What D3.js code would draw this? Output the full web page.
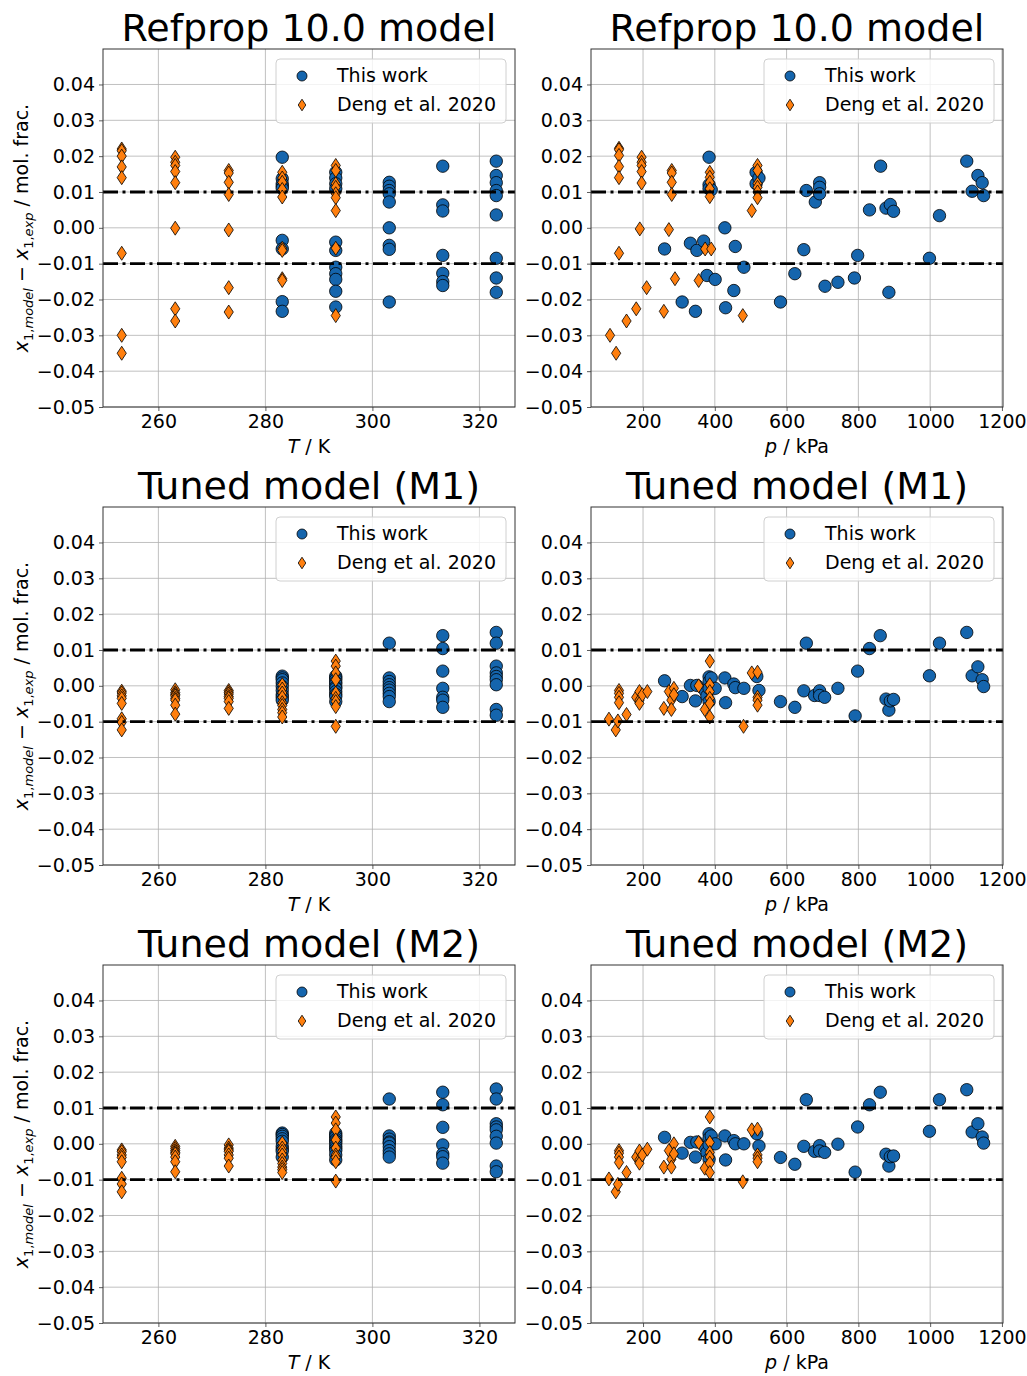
<!DOCTYPE html>
<html>
<head>
<meta charset="utf-8">
<script src="https://cdn.jsdelivr.net/npm/d3@7"></script>
<style>
  body { margin: 0; background: #fff; }
  text { font-family: "DejaVu Sans", sans-serif; fill: #000; }
</style>
</head>
<body>
<div id="chart"></div>
<script>
// ---- data (deviations x1,model - x1,exp, mol. frac.) ----
const titles = ["Refprop 10.0 model", "Tuned model (M1)", "Tuned model (M2)"];
const tTicks = [260, 280, 300, 320];
const pTicks = [200, 400, 600, 800, 1000, 1200];
const devTicks = [-0.05, -0.04, -0.03, -0.02, -0.01, 0.00, 0.01, 0.02, 0.03, 0.04];
const limitLines = [-0.01, 0.01];

// grouped by temperature / K
const refWorkT = [
  [283.15, [0.0197, 0.0137, 0.0123, 0.0116, 0.0110, -0.0035, -0.0059, -0.0206, -0.0233]],
  [293.15, [0.0155, 0.0139, 0.0123, 0.0109, -0.0040, -0.0063, -0.0110, -0.0128, -0.0144, -0.0177, -0.0221]],
  [303.15, [0.0127, 0.0116, 0.0104, 0.0095, 0.0072, 0.0000, -0.0049, -0.0060, -0.0207]],
  [313.15, [0.0172, 0.0064, 0.0047, -0.0077, -0.0127, -0.0150, -0.0161]],
  [323.15, [0.0186, 0.0146, 0.0126, 0.0104, 0.0090, 0.0036, -0.0085, -0.0140, -0.0180]]
];
const refDengT = [
  [253.15, [0.0220, 0.0215, 0.0200, 0.0170, 0.0140, -0.0071, -0.0300, -0.0350]],
  [263.15, [0.0197, 0.0183, 0.0174, 0.0157, 0.0126, -0.0001, -0.0226, -0.0260]],
  [273.15, [0.0160, 0.0153, 0.0127, 0.0093, -0.0006, -0.0167, -0.0235]],
  [283.15, [0.0155, 0.0139, 0.0127, 0.0107, 0.0086, -0.0057, -0.0063, -0.0142, -0.0147]],
  [293.15, [0.0174, 0.0160, 0.0123, 0.0113, 0.0095, 0.0084, 0.0048, -0.0057, -0.0245]]
];
const m1WorkT = [
  [283.15, [0.0027, 0.0022, 0.0017, 0.0008, -0.0002, -0.0013, -0.0025, -0.0032, -0.0040]],
  [293.15, [0.0027, 0.0022, 0.0017, 0.0010, 0.0005, -0.0003, -0.0007, -0.0016, -0.0024, -0.0030, -0.0044]],
  [303.15, [0.0119, 0.0022, 0.0012, 0.0003, -0.0005, -0.0012, -0.0021, -0.0030, -0.0044]],
  [313.15, [0.0140, 0.0104, 0.0041, -0.0007, -0.0032, -0.0040, -0.0060]],
  [323.15, [0.0149, 0.0119, 0.0055, 0.0036, 0.0026, 0.0017, 0.0003, -0.0066, -0.0082]]
];
const m1DengT = [
  [253.15, [-0.0015, -0.0020, -0.0028, -0.0035, -0.0049, -0.0092, -0.0102, -0.0123]],
  [263.15, [-0.0011, -0.0019, -0.0024, -0.0028, -0.0035, -0.0040, -0.0054, -0.0079]],
  [273.15, [-0.0013, -0.0018, -0.0023, -0.0030, -0.0035, -0.0044, -0.0063]],
  [283.15, [0.0003, -0.0009, -0.0020, -0.0032, -0.0047, -0.0055, -0.0066, -0.0075, -0.0087]],
  [293.15, [0.0069, 0.0055, 0.0036, 0.0017, -0.0020, -0.0035, -0.0044, -0.0058, -0.0113]]
];
const m2WorkT = [
  [283.15, [0.0030, 0.0026, 0.0021, 0.0014, 0.0007, -0.0007, -0.0015, -0.0021, -0.0037]],
  [293.15, [0.0030, 0.0024, 0.0019, 0.0012, 0.0007, 0.0001, -0.0007, -0.0013, -0.0019, -0.0031, -0.0045]],
  [303.15, [0.0125, 0.0022, 0.0013, 0.0005, 0.0002, -0.0008, -0.0019, -0.0028, -0.0037]],
  [313.15, [0.0144, 0.0109, 0.0046, -0.0003, -0.0028, -0.0036, -0.0054]],
  [323.15, [0.0153, 0.0125, 0.0056, 0.0047, 0.0039, 0.0021, 0.0002, -0.0062, -0.0078]]
];
const m2DengT = [
  [253.15, [-0.0017, -0.0022, -0.0031, -0.0038, -0.0050, -0.0096, -0.0112, -0.0134]],
  [263.15, [-0.0007, -0.0013, -0.0019, -0.0024, -0.0028, -0.0037, -0.0050, -0.0078]],
  [273.15, [-0.0003, -0.0012, -0.0017, -0.0021, -0.0031, -0.0040, -0.0062]],
  [283.15, [0.0002, -0.0012, -0.0021, -0.0031, -0.0045, -0.0055, -0.0065, -0.0072, -0.0080]],
  [293.15, [0.0075, 0.0058, 0.0039, 0.0011, -0.0012, -0.0031, -0.0038, -0.0050, -0.0104]]
];

// grouped by pressure / kPa
const refWorkP = [
  [260, [-0.0059]], [309, [-0.0207]], [332, [-0.0043]], [346, [-0.0233]], [350, [-0.0063]],
  [369, [-0.0037]], [378, [-0.0133]], [384, [0.0197, 0.0120, 0.0109]], [390, [0.0106]],
  [401, [-0.0144]], [428, [0.0000]], [430, [-0.0223]], [453, [-0.0175]], [457, [-0.0052]],
  [481, [-0.0110]], [515, [0.0155, 0.0123]], [523, [0.0139]], [583, [-0.0207]], [623, [-0.0128]],
  [648, [-0.0061]], [655, [0.0104]], [680, [0.0072]], [692, [0.0126, 0.0113, 0.0095]],
  [707, [-0.0163]], [743, [-0.0152]], [789, [-0.0140]], [798, [-0.0077]], [831, [0.0050]],
  [862, [0.0172]], [877, [0.0055]], [885, [-0.0180]], [889, [0.0065]], [898, [0.0046]],
  [998, [-0.0085]], [1026, [0.0034]], [1102, [0.0186]], [1117, [0.0102]], [1133, [0.0146]],
  [1145, [0.0126]], [1149, [0.0090]]
];
const refDengP = [
  [108, [-0.0300]], [125, [-0.0350]],
  [133, [0.0222, 0.0218, 0.0202, 0.0171, 0.0140, -0.0071]],
  [154, [-0.0260]], [181, [-0.0226]], [191, [-0.0003]],
  [196, [0.0197, 0.0183, 0.0174, 0.0157, 0.0125]],
  [210, [-0.0167]], [258, [-0.0233]], [272, [-0.0005]],
  [280, [0.0160, 0.0153, 0.0127, 0.0093]],
  [289, [-0.0142]], [355, [-0.0147]], [373, [-0.0059]], [390, [-0.0059]],
  [386, [0.0155, 0.0141, 0.0127, 0.0109, 0.0087]],
  [478, [-0.0245]], [503, [0.0048]],
  [519, [0.0174, 0.0160, 0.0123, 0.0113, 0.0100, 0.0084]]
];
const m1WorkP = [
  [260, [0.0014]], [309, [-0.0030]], [332, [0.0001]], [346, [-0.0042]], [350, [0.0001]],
  [373, [-0.0014]], [378, [-0.0028]], [384, [0.0025, 0.0012, -0.0007, -0.0044]], [390, [0.0022]],
  [401, [-0.0007]], [428, [0.0022]], [430, [-0.0047]], [453, [0.0005]], [457, [-0.0005]],
  [481, [-0.0007]], [517, [0.0026]], [523, [-0.0013]], [583, [-0.0044]], [623, [-0.0060]],
  [648, [-0.0014]], [655, [0.0119]], [678, [-0.0027]], [692, [-0.0014, -0.0027]], [706, [-0.0032]],
  [743, [-0.0007]], [791, [-0.0084]], [798, [0.0041]], [831, [0.0104]], [861, [0.0140]],
  [877, [-0.0037]], [885, [-0.0068]], [889, [-0.0042]], [898, [-0.0038]], [998, [0.0028]],
  [1026, [0.0119]], [1102, [0.0149]], [1117, [0.0028]], [1133, [0.0053]], [1145, [0.0017]], [1149, [-0.0002]]
];
const m1DengP = [
  [105, [-0.0093]], [124, [-0.0123]], [130, [-0.0098]], [133, [-0.0013, -0.0021, -0.0032, -0.0047]],
  [154, [-0.0080]], [181, [-0.0032]], [190, [-0.0016, -0.0040, -0.0049]], [198, [-0.0025]],
  [212, [-0.0016]], [258, [-0.0063]], [272, [-0.0016]], [279, [-0.0040, -0.0066]],
  [286, [-0.0007, -0.0025]], [355, [0.0000]], [372, [-0.0066]],
  [386, [0.0069, 0.0003, -0.0016, -0.0035, -0.0049, -0.0087]],
  [480, [-0.0113]], [503, [0.0036]], [519, [0.0038, -0.0032, -0.0040, -0.0054]]
];
const m2WorkP = [
  [260, [0.0018]], [309, [-0.0026]], [332, [0.0004]], [346, [-0.0037]], [350, [0.0005]],
  [373, [-0.0010]], [378, [-0.0024]], [384, [0.0028, 0.0016, -0.0003, -0.0043]], [390, [0.0022]],
  [401, [0.0000]], [428, [0.0022]], [430, [-0.0045]], [453, [0.0009]], [457, [0.0000]],
  [481, [0.0000]], [517, [0.0028]], [523, [-0.0006]], [583, [-0.0038]], [623, [-0.0057]],
  [648, [-0.0007]], [655, [0.0123]], [678, [-0.0021]], [692, [-0.0005, -0.0020]], [706, [-0.0024]],
  [743, [-0.0001]], [791, [-0.0079]], [798, [0.0047]], [831, [0.0109]], [861, [0.0144]],
  [877, [-0.0029]], [885, [-0.0062]], [889, [-0.0036]], [898, [-0.0034]], [998, [0.0035]],
  [1026, [0.0123]], [1102, [0.0151]], [1117, [0.0033]], [1133, [0.0056]], [1145, [0.0019]], [1149, [0.0002]]
];
const m2DengP = [
  [105, [-0.0098]], [124, [-0.0134]], [130, [-0.0113]], [133, [-0.0019, -0.0026, -0.0037, -0.0052]],
  [154, [-0.0080]], [181, [-0.0037]], [190, [-0.0020, -0.0045, -0.0054]], [198, [-0.0031]],
  [212, [-0.0015]], [258, [-0.0065]], [272, [-0.0019]], [279, [-0.0043, -0.0065]],
  [286, [0.0000, -0.0028]], [355, [0.0004]], [372, [-0.0068]],
  [386, [0.0075, 0.0004, -0.0024, -0.0037, -0.0054, -0.0080]],
  [478, [-0.0106]], [503, [0.0039]], [519, [0.0041, -0.0031, -0.0040, -0.0050]]
];

const workT = [refWorkT, m1WorkT, m2WorkT];
const dengT = [refDengT, m1DengT, m2DengT];
const workP = [refWorkP, m1WorkP, m2WorkP];
const dengP = [refDengP, m1DengP, m2DengP];

// ---- layout ----
const W = 1027, H = 1376;
const colX = [103, 591];
const panelW = 412, panelH = 358;
const rowY = [49, 507, 965];
const blue = "#1565ad", orange = "#ff7f0e";
const fontSize = 19;

const svg = d3.select("#chart").append("svg")
  .attr("width", W).attr("height", H);

const flat = groups => groups.flatMap(g => g[1].map(v => [g[0], v]));
const fmt = v => d3.format(".2f")(v).replace("-", "\u2212");
const diamond = "M0,-7L4.6,0L0,7L-4.6,0Z";

function panel(row, col) {
  const x0 = colX[col], y0 = rowY[row];
  const g = svg.append("g").attr("transform", `translate(${x0},${y0})`);

  const x = d3.scaleLinear()
    .domain(col === 0 ? [249.65, 326.65] : [55, 1203])
    .range([0, panelW]);
  const y = d3.scaleLinear().domain([-0.05, 0.0499]).range([panelH, 0]);
  const xTicks = col === 0 ? tTicks : pTicks;

  // grid
  g.append("g").selectAll("line.gx").data(xTicks.filter(t => x(t) <= panelW)).enter().append("line")
    .attr("x1", d => x(d)).attr("x2", d => x(d)).attr("y1", 0).attr("y2", panelH)
    .attr("stroke", "#b0b0b0").attr("stroke-width", 0.8);
  g.append("g").selectAll("line.gy").data(devTicks).enter().append("line")
    .attr("x1", 0).attr("x2", panelW).attr("y1", d => y(d)).attr("y2", d => y(d))
    .attr("stroke", "#b0b0b0").attr("stroke-width", 0.8);

  // points
  const work = flat(col === 0 ? workT[row] : workP[row]);
  const deng = flat(col === 0 ? dengT[row] : dengP[row]);

  g.append("g").selectAll("circle").data(work).enter().append("circle")
    .attr("cx", d => x(d[0])).attr("cy", d => y(d[1])).attr("r", 6.2)
    .attr("fill", blue).attr("stroke", "#000").attr("stroke-width", 0.8);

  g.append("g").selectAll("path").data(deng).enter().append("path")
    .attr("d", diamond)
    .attr("transform", d => `translate(${x(d[0])},${y(d[1])})`)
    .attr("fill", orange).attr("stroke", "#000").attr("stroke-width", 0.8);

  // +-0.01 limits
  g.append("g").selectAll("line").data(limitLines).enter().append("line")
    .attr("x1", 0).attr("x2", panelW).attr("y1", d => y(d)).attr("y2", d => y(d))
    .attr("stroke", "#000").attr("stroke-width", 2.8)
    .attr("stroke-dasharray", "15,4.5,3,4.5");

  // axes
  const xAxis = g.append("g").attr("transform", `translate(0,${panelH})`)
    .call(d3.axisBottom(x).tickValues(xTicks).tickSize(4).tickPadding(4).tickFormat(d3.format("d")));
  const yAxis = g.append("g")
    .call(d3.axisLeft(y).tickValues(devTicks).tickSize(4).tickPadding(4).tickFormat(fmt));
  [xAxis, yAxis].forEach(a => {
    a.attr("font-size", fontSize).attr("font-family", "DejaVu Sans, sans-serif");
    a.select(".domain").remove();
    a.selectAll("line").attr("stroke", "#333").attr("stroke-width", 0.8);
    a.selectAll("text").attr("fill", "#000");
  });

  // frame
  g.append("rect").attr("width", panelW).attr("height", panelH)
    .attr("fill", "none").attr("stroke", "#333").attr("stroke-width", 1);

  // title
  g.append("text").attr("x", panelW / 2).attr("y", -8)
    .attr("text-anchor", "middle").style("font-size", "38px")
    .text(titles[row]);

  // x label
  const xl = g.append("text").attr("x", panelW / 2).attr("y", panelH + 46)
    .attr("text-anchor", "middle").style("font-size", fontSize + "px");
  if (col === 0) {
    xl.append("tspan").attr("font-style", "italic").text("T");
    xl.append("tspan").text(" / K");
  } else {
    xl.append("tspan").attr("font-style", "italic").text("p");
    xl.append("tspan").text(" / kPa");
  }

  // y label (left column only)
  if (col === 0) {
    const yl = svg.append("text")
      .attr("transform", `translate(${28},${y0 + panelH / 2}) rotate(-90)`)
      .attr("text-anchor", "middle").style("font-size", fontSize + "px");
    yl.append("tspan").attr("font-style", "italic").text("x");
    yl.append("tspan").attr("font-size", 13).attr("dy", 5).text("1,");
    yl.append("tspan").attr("font-size", 13).attr("font-style", "italic").text("model");
    yl.append("tspan").attr("dy", -5).text(" \u2212 ");
    yl.append("tspan").attr("font-style", "italic").text("x");
    yl.append("tspan").attr("font-size", 13).attr("dy", 5).text("1,");
    yl.append("tspan").attr("font-size", 13).attr("font-style", "italic").text("exp");
    yl.append("tspan").attr("dy", -5).text(" / mol. frac.");
  }

  // legend
  const lg = g.append("g").attr("transform", `translate(${panelW - 239},10)`);
  lg.append("rect").attr("width", 230).attr("height", 64).attr("rx", 4)
    .attr("fill", "#fff").attr("fill-opacity", 0.8)
    .attr("stroke", "#d0d0d0").attr("stroke-width", 1);
  lg.append("circle").attr("cx", 26).attr("cy", 17).attr("r", 5)
    .attr("fill", blue).attr("stroke", "#000").attr("stroke-width", 0.8);
  lg.append("path").attr("d", "M0,-5.8L3.8,0L0,5.8L-3.8,0Z")
    .attr("transform", "translate(26,46)")
    .attr("fill", orange).attr("stroke", "#000").attr("stroke-width", 0.8);
  lg.append("text").attr("x", 61).attr("y", 23).style("font-size", fontSize + "px").text("This work");
  lg.append("text").attr("x", 61).attr("y", 52).style("font-size", fontSize + "px").text("Deng et al. 2020");
}

for (let r = 0; r < 3; r++) {
  for (let c = 0; c < 2; c++) panel(r, c);
}
</script>
</body>
</html>
